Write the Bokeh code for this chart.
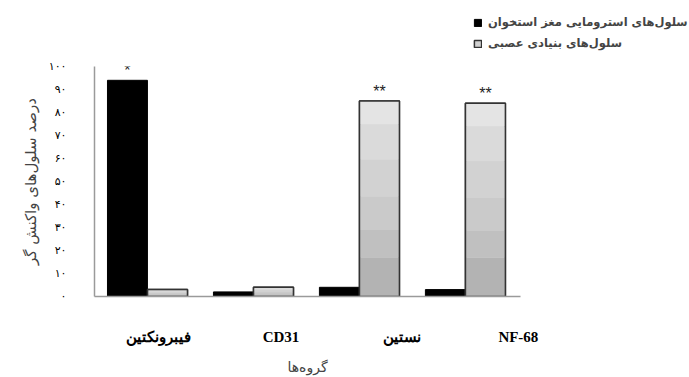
from bokeh.plotting import figure
from bokeh.layouts import column
from bokeh.models import (Range1d, FixedTicker, Legend, LegendItem, ColumnDataSource)
from bokeh.embed import file_html
from bokeh.resources import INLINE
import numpy as np

# ---- data ----
categories = ["فیبرونکتین", "CD31", "نستین", "NF-68"]
bmsc_values = [94, 2, 4, 3]          # سلول‌های استرومایی مغز استخوان
nsc_values = [3, 4, 85, 84]          # سلول‌های بنیادی عصبی
significance = ["*", "", "**", "**"]
series_names = ["سلول‌های استرومایی مغز استخوان", "سلول‌های بنیادی عصبی"]
y_ticks = [0, 10, 20, 30, 40, 50, 60, 70, 80, 90, 100]
y_tick_labels = ["۰", "۱۰", "۲۰", "۳۰", "۴۰", "۵۰", "۶۰", "۷۰", "۸۰", "۹۰", "۱۰۰"]
x_title = "گروه‌ها"
y_title = "درصد سلول‌های واکنش گر"

# ---- style / layout ----
bar_w = 0.377
off = 0.189
label_pos = [1.1, 2.26, 3.4, 4.5]
band_fracs = [0.0, 0.20, 0.34, 0.51, 0.70, 0.88, 1.0]
band_colors = ["#b3b3b3", "#c0c0c0", "#cacaca", "#d2d2d2", "#dadada", "#e4e4e4"]
axis_color = "#9a9a9a"
fa_font = "DejaVu Sans"
black_style = dict(fill_color="black", line_color="black", line_width=1)
gray_style = dict(fill_color="#d0d0d0", line_color="#333333", line_width=1.5)

x = np.arange(1, len(categories) + 1)
xb = x - off
xg = x + off
nsc = np.array(nsc_values, dtype=float)
bm = np.array(bmsc_values, dtype=float)

# ---------------- legend strip (top) ----------------
# hidden copies of the two series give the legend its glyphs
top = figure(width=689, height=58, output_backend="svg", toolbar_location=None,
             x_range=Range1d(0.5, 4.52), y_range=Range1d(0, 100),
             x_axis_type=None, y_axis_type=None,
             min_border_left=0, min_border_right=0, min_border_top=0,
             min_border_bottom=0)
try:
    top.frame_align = False
except Exception:
    pass
top.outline_line_color = None
top.grid.grid_line_color = None
lg_black = top.vbar(x=xb, top=bmsc_values, width=bar_w, **black_style)
lg_gray = top.vbar(x=xg, top=nsc_values, width=bar_w, **gray_style)
lg_black.visible = False
lg_gray.visible = False
legend = Legend(items=[LegendItem(label=series_names[0], renderers=[lg_black]),
                       LegendItem(label=series_names[1], renderers=[lg_gray])],
                location=(473, 7), orientation="vertical",
                border_line_color=None, background_fill_alpha=0,
                margin=0, padding=2, spacing=5,
                glyph_width=9, glyph_height=9, label_standoff=6,
                label_text_font=fa_font, label_text_font_style="bold",
                label_text_font_size="11.5px", label_height=16)
top.add_layout(legend, "center")

# ---------------- main chart ----------------
p = figure(width=689, height=319, output_backend="svg", toolbar_location=None,
           x_range=Range1d(0.5, 4.52), y_range=Range1d(0, 100),
           min_border_left=94, min_border_right=169, min_border_top=8,
           min_border_bottom=80)
try:
    p.frame_align = False
except Exception:
    pass
p.outline_line_color = None
p.grid.grid_line_color = None

p.vbar(x=xb, top=bmsc_values, bottom=0, width=bar_w, **black_style)
p.vbar(x=xg, top=nsc_values, bottom=0, width=bar_w, **gray_style)
for i, c in enumerate(band_colors):
    p.vbar(x=xg, bottom=nsc * band_fracs[i], top=nsc * band_fracs[i + 1],
           width=bar_w, fill_color=c, line_color=None)
p.vbar(x=xg, top=nsc_values, bottom=0, width=bar_w, fill_color=None,
       line_color="#333333", line_width=1.5)

# significance stars over the taller bar in each group
star_x = np.where(bm >= nsc, xb, xg)
star_y = np.maximum(bm, nsc)
src = ColumnDataSource(dict(x=star_x, y=star_y, t=significance))
p.text(x="x", y="y", text="t", source=src, text_align="center",
       text_baseline="bottom", y_offset=-1, text_font_size="16px",
       text_color="#222222")

# axes
p.xaxis.ticker = FixedTicker(ticks=label_pos)
p.xaxis.major_label_overrides = {t: c for t, c in zip(label_pos, categories)}
p.xaxis.major_label_text_font = "Liberation Serif"
p.xaxis.major_label_text_font_style = "bold"
p.xaxis.major_label_text_font_size = "15px"
p.xaxis.major_label_text_color = "black"
p.xaxis.major_label_standoff = 26
p.xaxis.major_tick_line_color = None
p.xaxis.minor_tick_line_color = None
p.xaxis.axis_line_color = axis_color
p.xaxis.axis_line_width = 1.5
p.xaxis.axis_label = x_title
p.xaxis.axis_label_text_font = fa_font
p.xaxis.axis_label_text_font_style = "normal"
p.xaxis.axis_label_text_font_size = "14px"
p.xaxis.axis_label_standoff = 11

p.yaxis.ticker = FixedTicker(ticks=y_ticks)
p.yaxis.major_label_overrides = {t: l for t, l in zip(y_ticks, y_tick_labels)}
p.yaxis.major_label_text_font = fa_font
p.yaxis.major_label_text_font_size = "11px"
p.yaxis.major_label_text_color = "black"
p.yaxis.major_label_standoff = 22
p.yaxis.major_tick_line_color = None
p.yaxis.minor_tick_line_color = None
p.yaxis.axis_line_color = axis_color
p.yaxis.axis_line_width = 1.5
p.yaxis.axis_label = y_title
p.yaxis.axis_label_text_font = fa_font
p.yaxis.axis_label_text_font_style = "normal"
p.yaxis.axis_label_text_font_size = "15px"
p.yaxis.axis_label_standoff = 6

layout = column(top, p, spacing=0)
open("out.html", "w").write(file_html(layout, INLINE))
